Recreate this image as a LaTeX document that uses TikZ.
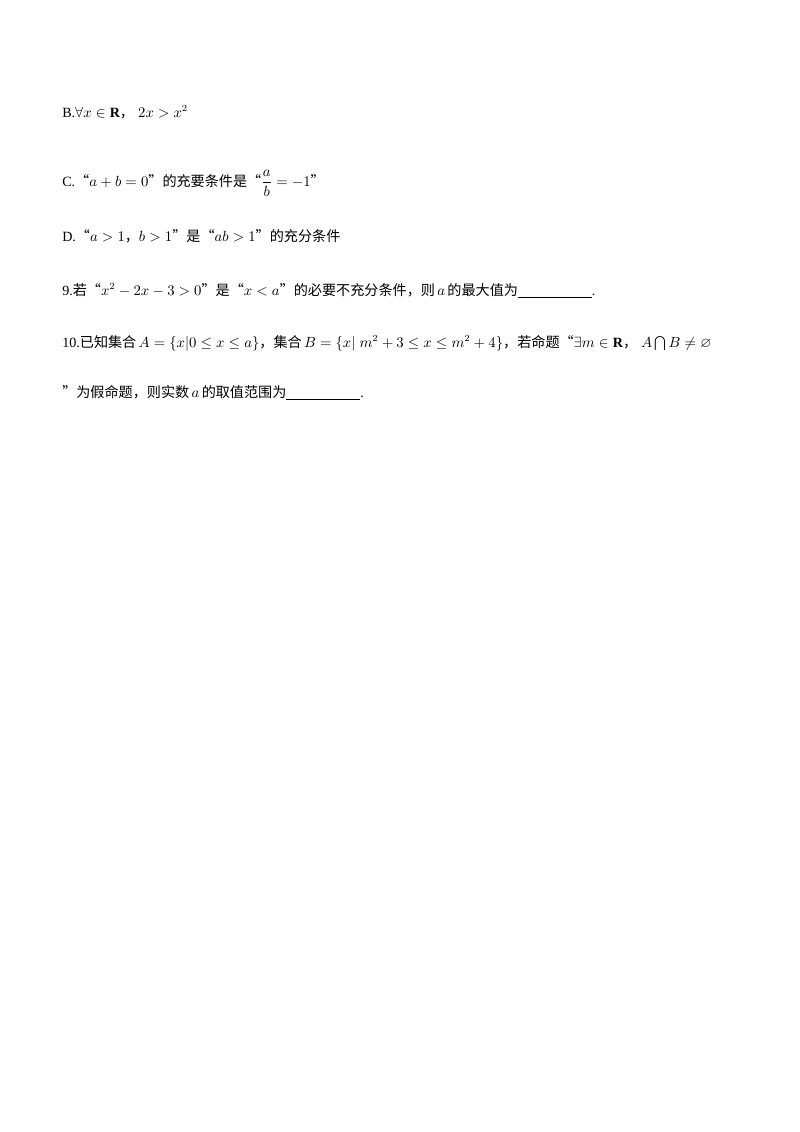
\documentclass[tikz,border=0pt]{standalone}
\usepackage{amsmath,amssymb}
\usepackage{fontspec}
\setmainfont{Liberation Serif}
\newfontfamily\cjk{Noto Sans CJK SC}
\newcommand{\zh}[1]{{\cjk #1}}
\begin{document}
\begin{tikzpicture}[x=0.744pt,y=-0.744pt,
  t/.style={anchor=base west,inner sep=0pt,font=\fontsize{10.5}{12}\selectfont}]
\useasboundingbox[fill=white] (0,0) rectangle (800,1132);
\node[t] (b) at (62,117) {B.$\forall x\in\mathbf{R}$\zh{，}$\;2x>x^2$};
\node[t] (c) at (62,186) {C.\zh{“}$a+b=0$\zh{”的充要条件是“}$\dfrac{a}{b}=-1$\zh{”}};
\node[t] (d) at (62,241) {D.\zh{“}$a>1$\zh{，}$b>1$\zh{”是“}$ab>1$\zh{”的充分条件}};
\node[t] (n9) at (62,295) {9.\zh{若“}$x^2-2x-3>0$\zh{”是“}$x<a$\zh{”的必要不充分条件，则}\,$a$\,\zh{的最大值为}\underline{\hspace{55pt}}.};
\node[t] (n10) at (62,347) {10.\zh{已知集合}\,$A=\{x|0\le x\le a\}$\zh{，集合}\,$B=\{x|\;m^2+3\le x\le m^2+4\}$\zh{，若命题“}$\exists m\in\mathbf{R}$\zh{，}\;$A\bigcap B\neq\varnothing$};
\node[t] (n10b) at (62,397) {\zh{”为假命题，则实数}\,$a$\,\zh{的取值范围为}\underline{\hspace{55pt}}.};
\end{tikzpicture}
\end{document}
